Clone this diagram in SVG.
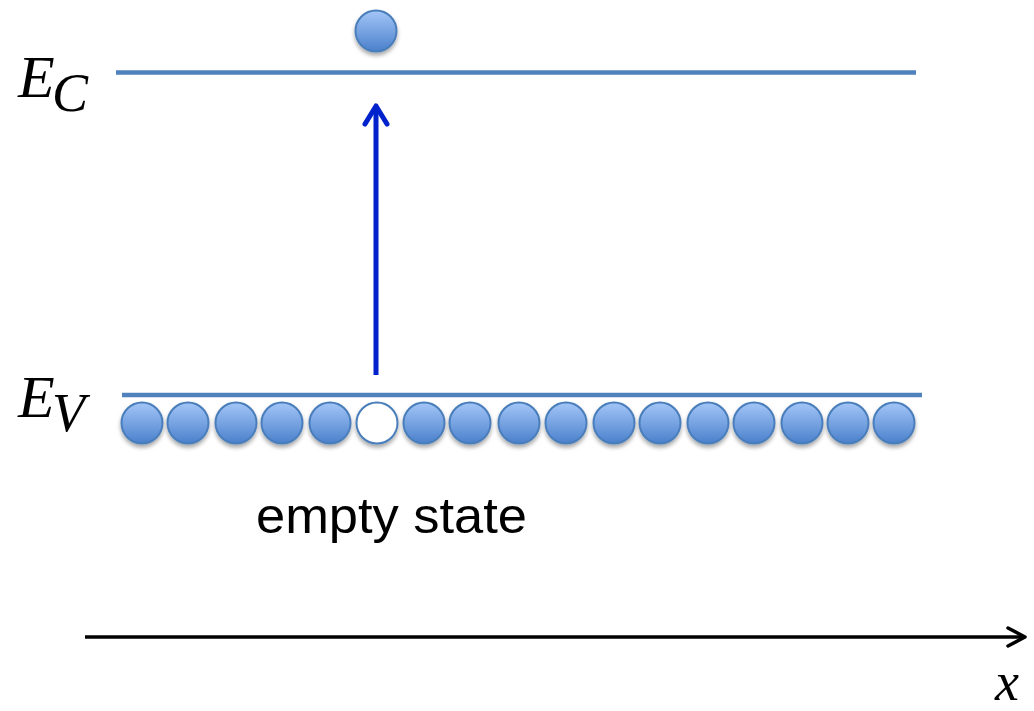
<svg xmlns="http://www.w3.org/2000/svg" width="1034" height="711" viewBox="0 0 1034 711">
<style>
.lvl{stroke:#4f81bd;stroke-width:4.5;fill:none}
.el{fill:url(#g);stroke:#4a7ebb;stroke-width:2;filter:url(#sh)}
.hole{fill:#fff;stroke:#4a7ebb;stroke-width:2;filter:url(#sh)}
.math{font-family:"Liberation Serif","DejaVu Serif",serif;font-style:italic;fill:#000}
.lbl{font-family:"Liberation Sans",Arial,sans-serif;font-size:50px;fill:#000}
</style>
<defs>
<linearGradient id="g" x1="0" y1="0" x2="0" y2="1">
<stop offset="0" stop-color="#a3c6f7"/>
<stop offset="1" stop-color="#4b80cc"/>
</linearGradient>
<filter id="sh" x="-30%" y="-30%" width="160%" height="170%">
<feGaussianBlur in="SourceAlpha" stdDeviation="2"/>
<feOffset dy="3" result="b"/>
<feComponentTransfer><feFuncA type="linear" slope="0.35"/></feComponentTransfer>
<feMerge><feMergeNode/><feMergeNode in="SourceGraphic"/></feMerge>
</filter>
</defs>
<g id="levels">
<line class="lvl" x1="116" y1="72.5" x2="916" y2="72.5"/>
<line class="lvl" x1="122" y1="395" x2="922" y2="395"/>
</g>
<g id="labels">
<text class="math" x="18" y="97" font-size="60">E</text>
<text class="math" x="52" y="111" font-size="54">C</text>
<text class="math" x="18" y="417" font-size="60">E</text>
<text class="math" x="52" y="431" font-size="54">V</text>
<text class="lbl" x="256" y="533" textLength="271" lengthAdjust="spacingAndGlyphs">empty state</text>
<text class="math" x="995" y="700" font-size="54">x</text>
</g>
<g id="electrons">
<circle class="el" cx="376" cy="31" r="20.5"/>
<circle class="el" cx="142" cy="423" r="20.5"/>
<circle class="el" cx="188" cy="423" r="20.5"/>
<circle class="el" cx="236" cy="423" r="20.5"/>
<circle class="el" cx="282" cy="423" r="20.5"/>
<circle class="el" cx="330" cy="423" r="20.5"/>
<circle class="hole" cx="377" cy="423" r="20.5"/>
<circle class="el" cx="424" cy="423" r="20.5"/>
<circle class="el" cx="470" cy="423" r="20.5"/>
<circle class="el" cx="519" cy="423" r="20.5"/>
<circle class="el" cx="566" cy="423" r="20.5"/>
<circle class="el" cx="614" cy="423" r="20.5"/>
<circle class="el" cx="660" cy="423" r="20.5"/>
<circle class="el" cx="708" cy="423" r="20.5"/>
<circle class="el" cx="754" cy="423" r="20.5"/>
<circle class="el" cx="802" cy="423" r="20.5"/>
<circle class="el" cx="848" cy="423" r="20.5"/>
<circle class="el" cx="894" cy="423" r="20.5"/>
</g>
<g id="connectors">
<line x1="376" y1="375" x2="376" y2="106" stroke="#0022cc" stroke-width="5"/>
<path d="M365,124 L376,106 L387,124" fill="none" stroke="#0022cc" stroke-width="5" stroke-linecap="round" stroke-linejoin="round"/>
<line x1="85" y1="637" x2="1024" y2="637" stroke="#000" stroke-width="3.5"/>
<path d="M1008,628 L1025,637 L1008,646" fill="none" stroke="#000" stroke-width="3.5" stroke-linecap="round" stroke-linejoin="round"/>
</g>
</svg>
